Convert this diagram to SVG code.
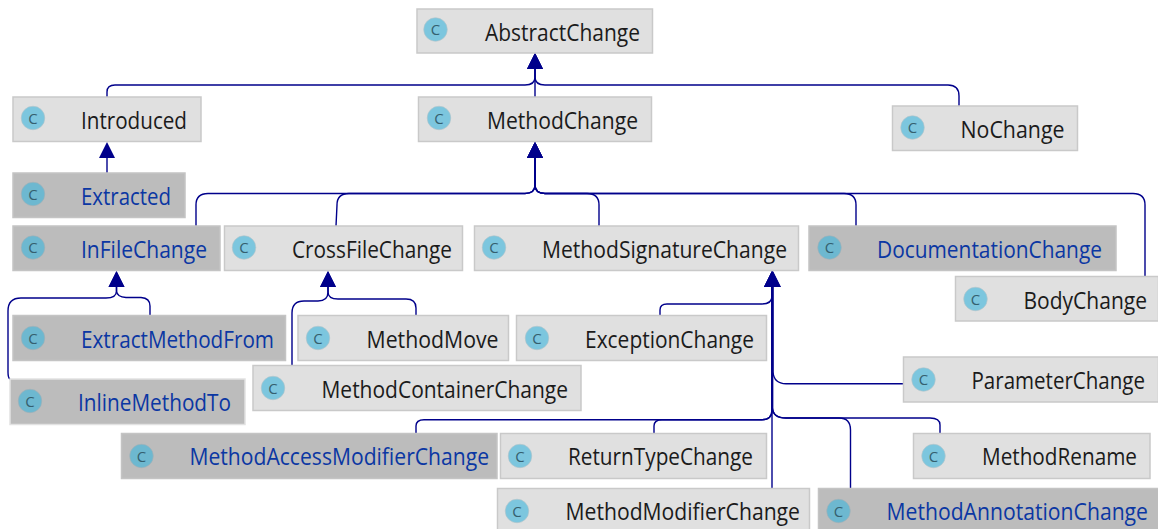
<svg xmlns="http://www.w3.org/2000/svg" width="1158" height="529" viewBox="0 0 1158 529">
<style>
.b{fill:#e0e0e0;stroke:#c9c9c9;stroke-width:1.5}
.d{fill:#bcbcbc;stroke:#c4c4c4;stroke-width:1.5}
.i{fill:#7cc6de;stroke:#b5c4ca;stroke-width:.6}
.e{fill:#6db8d0;stroke:#a5b0b5;stroke-width:.6}
.c{font-family:"Open Sans","Noto Sans",sans-serif;font-size:15px;fill:#35606f;text-anchor:middle}
.t{font-family:"Open Sans","Noto Sans",sans-serif;font-size:23px;fill:#1b1b1b}
.l{fill:#0b37a3}
.k{fill:none;stroke:#00008b;stroke-width:1.4;marker-end:url(#a)}
</style>
<defs>
<marker id="a" markerUnits="userSpaceOnUse" markerWidth="17" markerHeight="17" refX="0" refY="8" orient="auto" overflow="visible"><path d="M0 0L16 8L0 16Z" fill="#00008b"/></marker>
</defs>
<g id="connectors">
<path class="k" d="M107 97V92Q107 85 115 85H525Q535 85 535 77V69"/>
<path class="k" d="M959 106V96Q959 85 948 85H545Q535 85 535 77V69"/>
<path class="k" d="M535 97V69"/>
<path class="k" d="M107 173V158"/>
<path class="k" d="M196 226V205Q196 193.500 208 193.500H525Q535 193.500 535 185V158"/>
<path class="k" d="M336 226L337 205Q337 193.500 349 193.500H525Q535 193.500 535 185V158"/>
<path class="k" d="M599 226V205Q599 193.500 587 193.500H545Q535 193.500 535 185V158"/>
<path class="k" d="M856 226V205Q856 193.500 844 193.500H545Q535 193.500 535 185V158"/>
<path class="k" d="M1145 276V205Q1145 193.500 1133 193.500H545Q535 193.500 535 185V158"/>
<path class="k" d="M150 315V306Q150 298 141 297.500L126 297.500Q117 297 116.500 291V287"/>
<path class="k" d="M10 379Q8 378 8 372V311Q8 298 21 298H106Q116.500 298 116.500 291V287"/>
<path class="k" d="M416 315V308Q416 299 406 299H338Q328 299 328 292V287"/>
<path class="k" d="M292 365V313Q292 301 304 301H318Q328 301 328 292V287"/>
<path class="k" d="M660 315V310Q660 304 667 304H762Q772 304 772 296V287"/>
<path class="k" d="M903 383.700H786Q774 383.700 773 372V287"/>
<path class="k" d="M416 433V426Q416 419.700 424 419.700H762Q772 419.700 772 410V287"/>
<path class="k" d="M654 433V426Q654 419.700 662 419.700H762Q772 419.700 772 410V287"/>
<path class="k" d="M772 488V287"/>
<path class="k" d="M850.500 488V430Q850.500 418 839 418H786Q773 418 772.500 408V287"/>
<path class="k" d="M940 433V425Q940 418 930 418H786Q773 418 772.500 408V287"/>
</g>
<g id="AbstractChange"><rect class="b" x="417" y="9" width="235.500" height="44"/><circle class="i" cx="435.500" cy="29.500" r="11.800"/><text class="c" x="435.500" y="35">C</text><text class="t" x="485" y="40.500" textLength="155" lengthAdjust="spacingAndGlyphs">AbstractChange</text></g>
<g id="Introduced"><rect class="b" x="13" y="97" width="188" height="44.500"/><circle class="i" cx="33" cy="118" r="11.800"/><text class="c" x="33" y="123.500">C</text><text class="t" x="81" y="128.500" textLength="106" lengthAdjust="spacingAndGlyphs">Introduced</text></g>
<g id="MethodChange"><rect class="b" x="418.500" y="97" width="233" height="44.500"/><circle class="i" cx="439" cy="118" r="11.800"/><text class="c" x="439" y="123.500">C</text><text class="t" x="487" y="128.500" textLength="151" lengthAdjust="spacingAndGlyphs">MethodChange</text></g>
<g id="NoChange"><rect class="b" x="892.500" y="106" width="185" height="44.500"/><circle class="i" cx="912.500" cy="127.500" r="11.800"/><text class="c" x="912.500" y="133">C</text><text class="t" x="960.500" y="137.500" textLength="104" lengthAdjust="spacingAndGlyphs">NoChange</text></g>
<g id="Extracted"><rect class="d" x="13" y="173" width="172" height="44.500"/><circle class="e" cx="33" cy="194" r="11.800"/><text class="c" x="33" y="199.500">C</text><text class="t l" x="81" y="204.500" textLength="90" lengthAdjust="spacingAndGlyphs">Extracted</text></g>
<g id="InFileChange"><rect class="d" x="13" y="226" width="207" height="44.500"/><circle class="e" cx="33" cy="247.500" r="11.800"/><text class="c" x="33" y="253">C</text><text class="t l" x="81" y="257.500" textLength="126" lengthAdjust="spacingAndGlyphs">InFileChange</text></g>
<g id="CrossFileChange"><rect class="b" x="224.500" y="226" width="238" height="44.500"/><circle class="i" cx="244" cy="247.500" r="11.800"/><text class="c" x="244" y="253">C</text><text class="t" x="292" y="257.500" textLength="160" lengthAdjust="spacingAndGlyphs">CrossFileChange</text></g>
<g id="MethodSignatureChange"><rect class="b" x="474.500" y="226" width="324" height="44.500"/><circle class="i" cx="494" cy="247.500" r="11.800"/><text class="c" x="494" y="253">C</text><text class="t" x="542" y="257.500" textLength="245" lengthAdjust="spacingAndGlyphs">MethodSignatureChange</text></g>
<g id="DocumentationChange"><rect class="d" x="809" y="226" width="307" height="44.500"/><circle class="e" cx="829.500" cy="247.500" r="11.800"/><text class="c" x="829.500" y="253">C</text><text class="t l" x="877" y="257.500" textLength="225" lengthAdjust="spacingAndGlyphs">DocumentationChange</text></g>
<g id="BodyChange"><rect class="b" x="955.500" y="276.500" width="203" height="44.500"/><circle class="i" cx="975.500" cy="299" r="11.800"/><text class="c" x="975.500" y="304.500">C</text><text class="t" x="1023.500" y="308.500" textLength="123.500" lengthAdjust="spacingAndGlyphs">BodyChange</text></g>
<g id="ExtractMethodFrom"><rect class="d" x="13" y="315.500" width="272.500" height="45"/><circle class="e" cx="33" cy="338" r="11.800"/><text class="c" x="33" y="343.500">C</text><text class="t l" x="81" y="347.500" textLength="193" lengthAdjust="spacingAndGlyphs">ExtractMethodFrom</text></g>
<g id="MethodMove"><rect class="b" x="298" y="315.500" width="210.500" height="45"/><circle class="i" cx="318" cy="338" r="11.800"/><text class="c" x="318" y="343.500">C</text><text class="t" x="366.500" y="347.500" textLength="132" lengthAdjust="spacingAndGlyphs">MethodMove</text></g>
<g id="ExceptionChange"><rect class="b" x="516.500" y="315.500" width="250" height="45"/><circle class="i" cx="537" cy="338" r="11.800"/><text class="c" x="537" y="343.500">C</text><text class="t" x="585" y="347.500" textLength="169" lengthAdjust="spacingAndGlyphs">ExceptionChange</text></g>
<g id="MethodContainerChange"><rect class="b" x="253" y="365.500" width="328" height="45"/><circle class="i" cx="273" cy="388" r="11.800"/><text class="c" x="273" y="393.500">C</text><text class="t" x="321.500" y="397.500" textLength="246.500" lengthAdjust="spacingAndGlyphs">MethodContainerChange</text></g>
<g id="InlineMethodTo"><rect class="d" x="10" y="379" width="235" height="45.500" style="stroke:#e2e2e2"/><circle class="e" cx="30" cy="401" r="11.800"/><text class="c" x="30" y="406.500">C</text><text class="t l" x="78" y="410.500" textLength="153" lengthAdjust="spacingAndGlyphs">InlineMethodTo</text></g>
<g id="ParameterChange"><rect class="b" x="903.500" y="357" width="255" height="45"/><circle class="i" cx="923.500" cy="379.500" r="11.800"/><text class="c" x="923.500" y="385">C</text><text class="t" x="971.500" y="388.500" textLength="173.500" lengthAdjust="spacingAndGlyphs">ParameterChange</text></g>
<g id="MethodAccessModifierChange"><rect class="d" x="121.500" y="433.500" width="375.500" height="45"/><circle class="e" cx="141.500" cy="456" r="11.800"/><text class="c" x="141.500" y="461.500">C</text><text class="t l" x="189.500" y="465" textLength="299.500" lengthAdjust="spacingAndGlyphs">MethodAccessModifierChange</text></g>
<g id="ReturnTypeChange"><rect class="b" x="500.500" y="433.500" width="266" height="45"/><circle class="i" cx="520" cy="456" r="11.800"/><text class="c" x="520" y="461.500">C</text><text class="t" x="568" y="465" textLength="185" lengthAdjust="spacingAndGlyphs">ReturnTypeChange</text></g>
<g id="MethodRename"><rect class="b" x="913.500" y="433.500" width="236.500" height="45"/><circle class="i" cx="933.500" cy="456" r="11.800"/><text class="c" x="933.500" y="461.500">C</text><text class="t" x="982" y="465" textLength="155" lengthAdjust="spacingAndGlyphs">MethodRename</text></g>
<g id="MethodModifierChange"><rect class="b" x="497.500" y="488.500" width="312" height="45"/><circle class="i" cx="517" cy="511" r="11.800"/><text class="c" x="517" y="516.500">C</text><text class="t" x="565.500" y="519.500" textLength="234.500" lengthAdjust="spacingAndGlyphs">MethodModifierChange</text></g>
<g id="MethodAnnotationChange"><rect class="d" x="818.500" y="488.500" width="340.500" height="45"/><circle class="e" cx="838.500" cy="511" r="11.800"/><text class="c" x="838.500" y="516.500">C</text><text class="t l" x="886.500" y="519.500" textLength="261.500" lengthAdjust="spacingAndGlyphs">MethodAnnotationChange</text></g>
</svg>
